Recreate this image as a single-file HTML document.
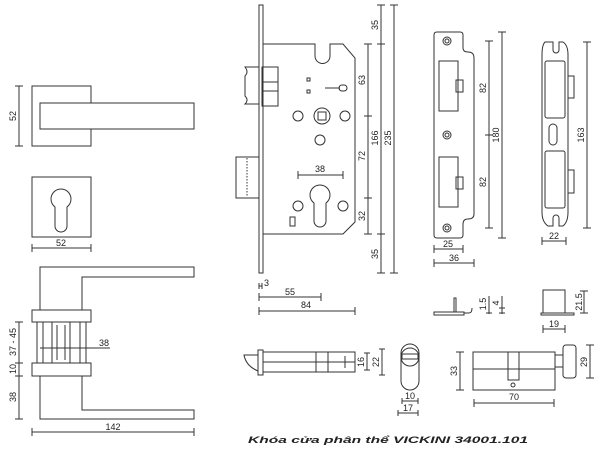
<!DOCTYPE html>
<html><head><meta charset="utf-8"><style>
html,body{margin:0;padding:0;background:#fff;width:600px;height:450px;overflow:hidden}
svg{display:block}
text{font-family:"Liberation Sans",sans-serif;font-size:9px;fill:#222}
</style></head><body>
<svg width="600" height="450" viewBox="0 0 600 450" xmlns="http://www.w3.org/2000/svg">
<g fill="none" stroke="#333" stroke-width="1">
<rect x="32" y="86" width="59" height="60"/>
<rect x="40" y="103" width="154" height="26" fill="#fff"/>
<line x1="19" y1="86" x2="19" y2="146"/><line x1="15" y1="86" x2="23" y2="86"/><line x1="15" y1="146" x2="23" y2="146"/>
<rect x="32" y="177" width="59" height="60"/>
<path d="M55,207 A10,10 0 1 1 67,207 L67,226 A6,6 0 0 1 55,226 Z"/>
<line x1="32" y1="248" x2="91" y2="248"/><line x1="32" y1="244" x2="32" y2="252"/><line x1="91" y1="244" x2="91" y2="252"/>
<path d="M40,310 L40,267 L194,267 L194,277 L82,277 L82,310"/>
<rect x="32" y="310" width="59" height="12"/>
<rect x="37" y="322" width="6" height="41"/><rect x="80" y="322" width="6" height="41"/>
<rect x="52" y="322" width="18" height="41"/><line x1="57" y1="325" x2="57" y2="360"/><line x1="65" y1="325" x2="65" y2="360"/>
<rect x="32" y="363" width="59" height="13"/>
<path d="M40,376 L40,419 L194,419 L194,410 L82,410 L82,376"/>
<line x1="40" y1="348" x2="110" y2="348"/>
<line x1="19" y1="322" x2="19" y2="419"/>
<line x1="15" y1="322" x2="23" y2="322"/><line x1="15" y1="363" x2="23" y2="363"/><line x1="15" y1="376" x2="23" y2="376"/><line x1="15" y1="419" x2="23" y2="419"/>
<line x1="32" y1="432" x2="194" y2="432"/><line x1="32" y1="428" x2="32" y2="436"/><line x1="194" y1="428" x2="194" y2="436"/>
<rect x="259" y="5" width="4" height="268"/>
<path d="M263,44 L315,44 L315,56 A7.5,7.5 0 0 0 330,56 L330,44 L343,44 L355,58 L355,222 L343,234 L263,234"/>
<path d="M259,67 L245,67 Q249,72 245,76 L245,96 Q249,100 245,104 L259,104"/>
<rect x="262" y="67" width="16" height="39"/><line x1="262" y1="82" x2="278" y2="82"/><line x1="262" y1="91" x2="278" y2="91"/>
<rect x="236" y="157" width="23" height="41"/><line x1="247" y1="158" x2="247" y2="197" stroke-dasharray="1.5,1.5"/>
<circle cx="322" cy="116" r="8"/><rect x="318" y="112" width="8" height="8"/>
<circle cx="298" cy="116" r="5"/><circle cx="345" cy="116" r="5"/><circle cx="320" cy="140" r="5"/>
<path d="M314,203 A10,10 0 1 1 326,203 L326,221 A6,6 0 0 1 314,221 Z"/>
<circle cx="298" cy="206" r="5"/><circle cx="343" cy="206" r="5"/>
<rect x="290" y="217" width="5" height="9"/>
<rect x="307" y="78" width="3" height="3"/><rect x="307" y="90" width="3" height="3"/>
<line x1="325" y1="88" x2="340" y2="88"/><rect x="339" y="85" width="8" height="6" rx="3"/>
<line x1="298" y1="175" x2="343" y2="175"/><line x1="298" y1="171" x2="298" y2="179"/><line x1="343" y1="171" x2="343" y2="179"/>
<line x1="368" y1="44" x2="368" y2="234"/>
<line x1="364" y1="44" x2="372" y2="44"/><line x1="364" y1="116" x2="372" y2="116"/><line x1="364" y1="198" x2="372" y2="198"/><line x1="364" y1="234" x2="372" y2="234"/>
<line x1="381" y1="5" x2="381" y2="273"/>
<line x1="377" y1="5" x2="385" y2="5"/><line x1="377" y1="44" x2="385" y2="44"/><line x1="377" y1="234" x2="385" y2="234"/><line x1="377" y1="273" x2="385" y2="273"/>
<line x1="394" y1="5" x2="394" y2="273"/><line x1="390" y1="5" x2="398" y2="5"/><line x1="390" y1="273" x2="398" y2="273"/>
<line x1="259" y1="283" x2="259" y2="289"/><line x1="262" y1="283" x2="262" y2="289"/><line x1="259" y1="286" x2="262" y2="286"/>
<line x1="259" y1="297" x2="321" y2="297"/><line x1="259" y1="293" x2="259" y2="301"/><line x1="321" y1="293" x2="321" y2="301"/>
<line x1="259" y1="311" x2="355" y2="311"/><line x1="259" y1="307" x2="259" y2="315"/><line x1="355" y1="307" x2="355" y2="315"/>
<path d="M258,355 L244,355 Q246,366 258,371"/>
<rect x="258" y="350" width="5" height="25"/>
<rect x="263" y="352" width="92" height="20"/>
<line x1="263" y1="362" x2="355" y2="362"/>
<rect x="316" y="352" width="12" height="20"/><line x1="345" y1="356" x2="345" y2="368"/>
<line x1="367" y1="353" x2="367" y2="370"/><line x1="364" y1="353" x2="370" y2="353"/><line x1="364" y1="370" x2="370" y2="370"/>
<line x1="382" y1="349" x2="382" y2="375"/><line x1="379" y1="349" x2="385" y2="349"/><line x1="379" y1="375" x2="385" y2="375"/>
<rect x="401" y="344" width="18" height="46" rx="9"/>
<ellipse cx="410" cy="357" rx="9" ry="9"/>
<rect x="402" y="354" width="16" height="5"/>
<line x1="402" y1="401" x2="418" y2="401"/><line x1="402" y1="398" x2="402" y2="404"/><line x1="418" y1="398" x2="418" y2="404"/>
<line x1="398" y1="413" x2="418" y2="413"/><line x1="398" y1="410" x2="398" y2="416"/><line x1="418" y1="410" x2="418" y2="416"/>
<path d="M437,32 L460,32 Q463,32 463,35 L463,48 Q463,52 468,52 Q474,52 474,58 L474,214 Q474,219 468,219 Q463,219 463,224 L463,235 Q463,238 460,238 L437,238 Q434,238 434,235 L434,35 Q434,32 437,32 Z"/>
<circle cx="447" cy="41" r="4"/><circle cx="447" cy="41" r="2"/>
<circle cx="447" cy="135" r="4"/><circle cx="447" cy="135" r="2"/>
<circle cx="447" cy="228" r="4"/><circle cx="447" cy="228" r="2"/>
<rect x="439" y="61" width="19" height="50"/><rect x="439" y="157" width="19" height="50"/>
<rect x="456" y="80" width="7" height="12"/><rect x="456" y="177" width="7" height="12"/>
<line x1="489" y1="41" x2="489" y2="228"/><line x1="485" y1="41" x2="493" y2="41"/><line x1="485" y1="135" x2="493" y2="135"/><line x1="485" y1="228" x2="493" y2="228"/>
<line x1="502" y1="32" x2="502" y2="238"/><line x1="498" y1="32" x2="506" y2="32"/><line x1="498" y1="238" x2="506" y2="238"/>
<line x1="434" y1="249" x2="463" y2="249"/><line x1="434" y1="245" x2="434" y2="253"/><line x1="463" y1="245" x2="463" y2="253"/>
<line x1="434" y1="263" x2="474" y2="263"/><line x1="434" y1="259" x2="434" y2="267"/><line x1="474" y1="259" x2="474" y2="267"/>
<path d="M545,42 Q542,45 542,55 L542,212 Q542,222 548,226 L553,226 L553,218 A3,3 0 0 1 559,218 L559,226 L563,226 Q568,222 568,212 L568,55 Q568,45 563,42 L559,42 L559,50 A3,3 0 0 1 553,50 L553,42 Z"/>
<rect x="545" y="61" width="20" height="57" rx="2"/><rect x="545" y="151" width="20" height="57" rx="2"/>
<rect x="568" y="76" width="6" height="22"/><rect x="568" y="170" width="6" height="23"/>
<rect x="549" y="124" width="8" height="21" rx="4"/>
<line x1="587" y1="42" x2="587" y2="228"/><line x1="583" y1="42" x2="591" y2="42"/><line x1="583" y1="228" x2="591" y2="228"/>
<line x1="542" y1="241" x2="566" y2="241"/><line x1="542" y1="237" x2="542" y2="245"/><line x1="566" y1="237" x2="566" y2="245"/>
<rect x="434" y="312" width="30" height="3"/><rect x="454" y="298" width="2" height="14"/>
<path d="M464,313 L469,313 Q472,313 472,308"/>
<line x1="489" y1="296" x2="489" y2="314"/><line x1="486" y1="313" x2="492" y2="313"/>
<line x1="502" y1="296" x2="502" y2="314"/><line x1="499" y1="308" x2="505" y2="308"/><line x1="499" y1="313" x2="505" y2="313"/>
<rect x="543" y="290" width="22" height="23"/><rect x="541" y="313" width="33" height="2"/>
<line x1="584" y1="291" x2="584" y2="313"/><line x1="580" y1="291" x2="588" y2="291"/><line x1="580" y1="313" x2="588" y2="313"/>
<line x1="543" y1="329" x2="565" y2="329"/><line x1="543" y1="325" x2="543" y2="333"/><line x1="565" y1="325" x2="565" y2="333"/>
<rect x="473" y="352" width="82" height="38"/><line x1="473" y1="369" x2="555" y2="369"/>
<rect x="508" y="352" width="11" height="28"/><circle cx="513" cy="385" r="2"/>
<rect x="555" y="355" width="8" height="12"/>
<rect x="563" y="345" width="13" height="33" rx="3"/>
<line x1="460" y1="352" x2="460" y2="390"/><line x1="456" y1="352" x2="464" y2="352"/><line x1="456" y1="390" x2="464" y2="390"/>
<line x1="590" y1="345" x2="590" y2="378"/><line x1="586" y1="345" x2="594" y2="345"/><line x1="586" y1="378" x2="594" y2="378"/>
<line x1="474" y1="403" x2="554" y2="403"/><line x1="474" y1="399" x2="474" y2="407"/><line x1="554" y1="399" x2="554" y2="407"/>
</g>
<text transform="translate(16,116) rotate(-90)" text-anchor="middle">52</text>
<text x="61" y="246" text-anchor="middle">52</text>
<text x="104" y="346" text-anchor="middle">38</text>
<text transform="translate(16,342) rotate(-90)" text-anchor="middle">37 - 45</text>
<text transform="translate(16,369) rotate(-90)" text-anchor="middle">10</text>
<text transform="translate(16,397) rotate(-90)" text-anchor="middle">38</text>
<text x="113" y="430" text-anchor="middle">142</text>
<text x="320" y="172" text-anchor="middle">38</text>
<text transform="translate(365,80) rotate(-90)" text-anchor="middle">63</text>
<text transform="translate(365,156) rotate(-90)" text-anchor="middle">72</text>
<text transform="translate(365,216) rotate(-90)" text-anchor="middle">32</text>
<text transform="translate(378,25) rotate(-90)" text-anchor="middle">35</text>
<text transform="translate(378,138) rotate(-90)" text-anchor="middle">166</text>
<text transform="translate(378,254) rotate(-90)" text-anchor="middle">35</text>
<text transform="translate(391,138) rotate(-90)" text-anchor="middle">235</text>
<text x="264" y="286" font-size="8">3</text>
<text x="290" y="295" text-anchor="middle">55</text>
<text x="306" y="308" text-anchor="middle">84</text>
<text transform="translate(364,362) rotate(-90)" text-anchor="middle">16</text>
<text transform="translate(379,362) rotate(-90)" text-anchor="middle">22</text>
<text x="410" y="399" text-anchor="middle">10</text>
<text x="408" y="411" text-anchor="middle">17</text>
<text transform="translate(486,88) rotate(-90)" text-anchor="middle">82</text>
<text transform="translate(486,182) rotate(-90)" text-anchor="middle">82</text>
<text transform="translate(499,135) rotate(-90)" text-anchor="middle">180</text>
<text x="448" y="247" text-anchor="middle">25</text>
<text x="454" y="261" text-anchor="middle">36</text>
<text transform="translate(584,135) rotate(-90)" text-anchor="middle">163</text>
<text x="554" y="239" text-anchor="middle">22</text>
<text transform="translate(486,304) rotate(-90)" text-anchor="middle">1.5</text>
<text transform="translate(499,303) rotate(-90)" text-anchor="middle">4</text>
<text transform="translate(582,302) rotate(-90)" text-anchor="middle">21.5</text>
<text x="554" y="327" text-anchor="middle">19</text>
<text transform="translate(457,371) rotate(-90)" text-anchor="middle">33</text>
<text transform="translate(587,362) rotate(-90)" text-anchor="middle">29</text>
<text x="514" y="400" text-anchor="middle">70</text>
<text x="248" y="443" font-size="17" font-weight="bold" font-style="italic" fill="#111" textLength="280" lengthAdjust="spacingAndGlyphs">Khóa cửa phân thể VICKINI 34001.101</text>
</svg>
</body></html>
